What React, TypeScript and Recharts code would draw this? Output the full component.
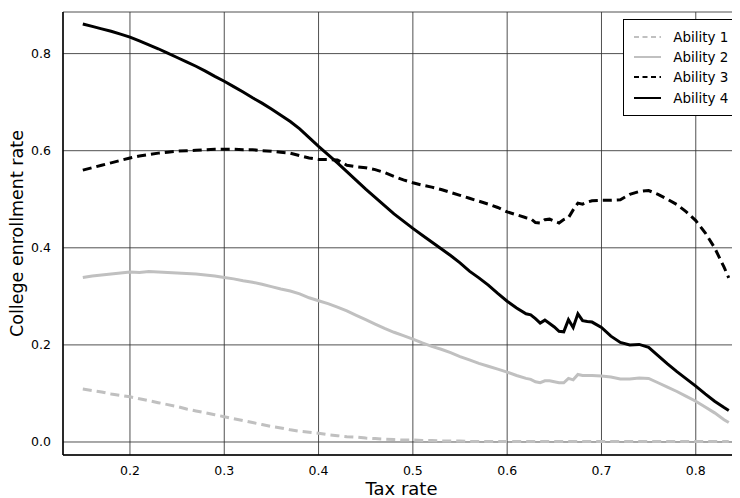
import React from "react";
import { LineChart, Line, XAxis, YAxis, CartesianGrid, Legend } from "recharts";

const taxRates = [
  0.15, 0.16, 0.17, 0.18, 0.19, 0.2, 0.21, 0.22, 0.23, 0.24, 0.25, 0.26, 0.27, 0.28, 0.29, 0.3,
  0.31, 0.32, 0.33, 0.34, 0.35, 0.36, 0.37, 0.38, 0.39, 0.4, 0.41, 0.42, 0.43, 0.44, 0.45, 0.46,
  0.47, 0.48, 0.49, 0.5, 0.51, 0.52, 0.53, 0.54, 0.55, 0.56, 0.57, 0.58, 0.59, 0.6, 0.61, 0.62,
  0.625, 0.63, 0.635, 0.64, 0.645, 0.65, 0.655, 0.66, 0.665, 0.67, 0.675, 0.68, 0.685,
  0.69, 0.7, 0.71, 0.72, 0.73, 0.74, 0.75, 0.76, 0.77, 0.78, 0.79, 0.8, 0.81, 0.82, 0.83, 0.835,
];

const ability1 = [
  0.109, 0.106, 0.103, 0.099, 0.096, 0.093, 0.089, 0.085, 0.081, 0.077, 0.073, 0.068, 0.064, 0.06, 0.056, 0.052,
  0.048, 0.044, 0.04, 0.036, 0.032, 0.029, 0.025, 0.022, 0.02, 0.018, 0.015, 0.013, 0.011, 0.01, 0.008, 0.007,
  0.006, 0.005, 0.004, 0.004, 0.003, 0.003, 0.002, 0.002, 0.002, 0.001, 0.001, 0.001, 0.001, 0.001, 0.001, 0.001,
  0.001, 0.001, 0.001, 0.001, 0.001, 0.001, 0.001, 0.001, 0.001, 0.001, 0.001, 0.001, 0.001,
  0.001, 0.001, 0.001, 0.001, 0.001, 0.001, 0.001, 0.001, 0.001, 0.001, 0.001, 0.001, 0.001, 0.001, 0.001, 0.001,
];

const ability2 = [
  0.339, 0.342, 0.344, 0.346, 0.348, 0.35, 0.349, 0.351, 0.35, 0.349, 0.348, 0.347, 0.346, 0.344, 0.342, 0.339,
  0.336, 0.332, 0.329, 0.325, 0.32, 0.315, 0.311, 0.305, 0.297, 0.291, 0.285, 0.278, 0.27, 0.261, 0.252, 0.243,
  0.234, 0.226, 0.219, 0.212, 0.204, 0.197, 0.191, 0.184, 0.176, 0.169, 0.162, 0.156, 0.15, 0.144, 0.137, 0.131,
  0.129, 0.124, 0.122, 0.126, 0.126, 0.124, 0.122, 0.122, 0.131, 0.128, 0.139, 0.137, 0.137,
  0.137, 0.136, 0.134, 0.13, 0.13, 0.132, 0.131, 0.122, 0.113, 0.104, 0.094, 0.084, 0.072, 0.06, 0.046, 0.04,
];

const ability3 = [
  0.56, 0.565, 0.57, 0.575, 0.58, 0.585, 0.589, 0.592, 0.595, 0.597, 0.599, 0.6, 0.601, 0.602, 0.603, 0.603,
  0.603, 0.602, 0.602, 0.6, 0.599, 0.597, 0.595, 0.59, 0.585, 0.582, 0.582, 0.581, 0.57, 0.567, 0.565, 0.561,
  0.555, 0.547, 0.54, 0.534, 0.529, 0.525, 0.52, 0.514, 0.508, 0.502, 0.496, 0.49, 0.483, 0.474, 0.468, 0.462,
  0.46, 0.452, 0.451, 0.458, 0.459, 0.455, 0.451, 0.458, 0.462, 0.478, 0.492, 0.49, 0.494,
  0.497, 0.498, 0.498, 0.499, 0.51, 0.516, 0.518, 0.51, 0.5, 0.489, 0.474, 0.456, 0.431, 0.4, 0.36, 0.338,
];

const ability4 = [
  0.861, 0.856, 0.851, 0.846, 0.84, 0.834, 0.826, 0.818, 0.81, 0.801, 0.792, 0.783, 0.774, 0.764, 0.753, 0.743,
  0.732, 0.721, 0.709, 0.698, 0.686, 0.673, 0.66, 0.645, 0.627, 0.609, 0.592, 0.575, 0.557, 0.539, 0.521, 0.504,
  0.487, 0.47, 0.455, 0.44, 0.426, 0.412, 0.398, 0.384, 0.369, 0.352, 0.338, 0.323, 0.306, 0.29, 0.276, 0.264,
  0.262, 0.254, 0.245, 0.251, 0.244, 0.237, 0.228, 0.227, 0.252, 0.236, 0.264, 0.25, 0.248,
  0.247, 0.236, 0.218, 0.205, 0.2, 0.201, 0.195, 0.178, 0.161, 0.145, 0.13, 0.115, 0.099, 0.084, 0.071, 0.065,
];

const xTicks = [0.2, 0.3, 0.4, 0.5, 0.6, 0.7, 0.8];
const yTicks = [0, 0.2, 0.4, 0.6, 0.8];

const seriesNames = ["Ability 1", "Ability 2", "Ability 3", "Ability 4"];
const seriesKeys = ["a1", "a2", "a3", "a4"];
const seriesColors = ["#c0c0c0", "#c0c0c0", "#000000", "#000000"];
const seriesDash = ["9 5", undefined, "9 5", undefined];

const data = taxRates.map((t, i) => ({
  t,
  a1: ability1[i],
  a2: ability2[i],
  a3: ability3[i],
  a4: ability4[i],
}));

const FONT = "DejaVu Sans, sans-serif";

const LegendBox = () => (
  <div
    style={{
      border: "1.5px solid #000",
      background: "#fff",
      width: 117,
      height: 97,
      boxSizing: "border-box",
      padding: "6.5px 0 0 10.5px",
      fontFamily: FONT,
      fontSize: 13.5,
      color: "#000",
      textAlign: "left",
    }}
  >
    {seriesNames.map((n, i) => (
      <div key={n} style={{ display: "flex", alignItems: "center", height: 20.4 }}>
        <svg width={27} height={6} style={{ marginRight: 12, flex: "none" }}>
          <line
            x1={0}
            y1={3}
            x2={27}
            y2={3}
            stroke={seriesColors[i]}
            strokeWidth={2}
            strokeDasharray={seriesDash[i] ? "5 3.5" : undefined}
          />
        </svg>
        <span style={{ lineHeight: "16px" }}>{n}</span>
      </div>
    ))}
  </div>
);

export default function App() {
  return (
    <LineChart
      width={732}
      height={490}
      data={data}
      margin={{ top: 4, right: 0, left: 0, bottom: 0 }}
      style={{ fontFamily: FONT }}
    >
      <CartesianGrid stroke="#333" strokeWidth={1} strokeOpacity={0.85} />
      <XAxis
        dataKey="t"
        type="number"
        domain={[0.129, 0.8469]}
        allowDataOverflow
        ticks={xTicks}
        tickFormatter={(v: number) => v.toFixed(1)}
        tickLine={false}
        axisLine={{ stroke: "#000", strokeWidth: 1.5 }}
        height={43}
        tick={{ fill: "#000", fontSize: 12.5, fontFamily: FONT }}
        tickMargin={5}
        label={{ value: "Tax rate", position: "insideBottom", offset: 3, fill: "#000", fontSize: 18, fontFamily: FONT }}
      />
      <YAxis
        type="number"
        domain={[-0.0268, 0.8857]}
        allowDataOverflow
        ticks={yTicks}
        tickFormatter={(v: number) => v.toFixed(1)}
        tickLine={false}
        axisLine={{ stroke: "#000", strokeWidth: 1.5 }}
        width={55}
        tick={{ fill: "#000", fontSize: 12.5, fontFamily: FONT }}
        tickMargin={6}
        label={{
          value: "College enrollment rate",
          angle: -90,
          position: "insideLeft",
          offset: 0,
          dx: 9,
          fill: "#000",
          fontSize: 17.5,
          fontFamily: FONT,
          style: { textAnchor: "middle" },
        }}
      />
      <Legend
        content={<LegendBox />}
        layout="horizontal"
        verticalAlign="middle"
        align="center"
        wrapperStyle={{ position: "absolute", top: 11, left: 614.7, width: 117, height: 97 }}
      />
      {seriesKeys.map((k, i) => (
        <Line
          key={k}
          dataKey={k}
          name={seriesNames[i]}
          stroke={seriesColors[i]}
          strokeWidth={3}
          strokeDasharray={seriesDash[i]}
          dot={false}
          activeDot={false}
          type="linear"
          isAnimationActive={false}
        />
      ))}
    </LineChart>
  );
}
